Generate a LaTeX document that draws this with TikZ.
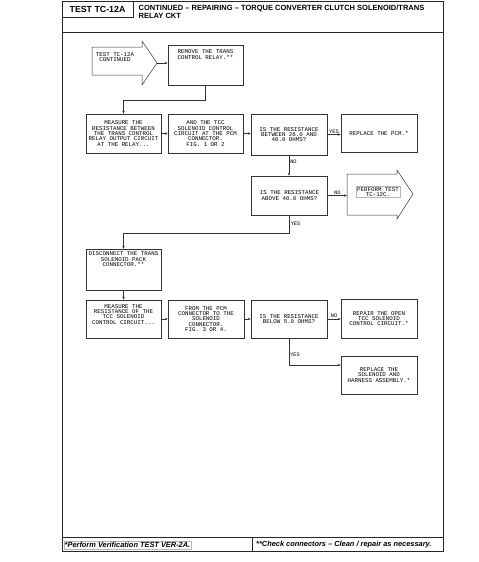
\documentclass[tikz,border=0pt]{standalone}
\usepackage{fontspec}
\usetikzlibrary{arrows.meta,positioning}
\newfontfamily\monofont{Liberation Mono}
\newfontfamily\headfont{Liberation Sans}

\tikzset{
  stepbox/.style={draw=black!80, line width=0.5pt, minimum width=76pt, minimum height=39pt,
    inner sep=1pt, align=center, font=\monofont\fontsize{5.8}{5.3}\selectfont},
  steptext/.style={inner sep=0pt, align=center, font=\monofont\fontsize{5.8}{5.3}\selectfont},
  flow/.style={draw=black!80, line width=0.5pt, -{Stealth[length=3pt,width=2.4pt]}},
  answer/.style={inner sep=1pt, font=\monofont\fontsize{5.3}{5.3}\selectfont},
  hilite/.style={draw=blue!35!gray!45, line width=0.4pt},
  framel/.style={draw=black!85, line width=0.7pt},
  footnote/.style={anchor=west, inner sep=1pt, font=\headfont\bfseries\itshape\fontsize{7.4}{8}\selectfont},
}

\begin{document}
\begin{tikzpicture}[x=1pt,y=-1pt]
\useasboundingbox (0,0) rectangle (479,562);

% page frame
\draw[framel] (62,1) rectangle (443,551);
\draw[framel] (62,17) -- (133,17) -- (133,1);
\draw[framel] (62,32) -- (443,32);
\draw[framel] (62,537) -- (443,537);
\draw[framel] (252,537) -- (252,551);

\node[inner sep=0pt, font=\headfont\bfseries\fontsize{8.8}{10}\selectfont] (tst) at (97.5,9.5) {TEST TC-12A};
\node[anchor=north west, align=left, inner sep=0pt, font=\headfont\bfseries\fontsize{7.5}{8.2}\selectfont] (ttl) at (138.5,4.5)
  {CONTINUED – REPAIRING – TORQUE CONVERTER CLUTCH SOLENOID/TRANS\\RELAY CKT};

\node[footnote, hilite] (vrf) at (63.5,545) {*Perform Verification TEST VER-2A.};
\node[footnote] (cln) at (255,545) {**Check connectors – Clean / repair as necessary.};

% start arrow
\coordinate (stip) at (157,63);
\draw[draw=black!80, line width=0.5pt] (92,47) -- (142,47) -- (142,41) -- (stip) -- (142,85) -- (142,75) -- (92,75) -- cycle;
\node[steptext] (cnt) at (115,57) {TEST TC-12A\\CONTINUED};

\node[stepbox, minimum width=75pt, minimum height=40pt] (rmv) at (205.5,65) {};
\node[steptext, below=5pt of rmv.north] (rmvt) {REMOVE THE TRANS\\CONTROL RELAY.**};

% row 2
\node[stepbox, minimum width=75pt] (msr) at (123.5,133.5)
  {MEASURE THE\\RESISTANCE BETWEEN\\THE TRANS CONTROL\\RELAY OUTPUT CIRCUIT\\AT THE RELAY...};
\node[stepbox, minimum width=75pt] (tcc) at (205.5,133.5)
  {AND THE TCC\\SOLENOID CONTROL\\CIRCUIT AT THE PCM\\CONNECTOR.\\FIG. 1 OR 2};
\node[stepbox, minimum height=41pt] (btw) at (289,134.5)
  {IS THE RESISTANCE\\BETWEEN 26.0 AND\\40.0 OHMS?};
\node[stepbox, minimum height=38pt] (pcm) at (379,133) {REPLACE THE PCM.*};

% row 3
\node[stepbox] (abv) at (289.5,195.5) {IS THE RESISTANCE\\ABOVE 40.0 OHMS?};
\coordinate (fin) at (347,195);
\draw[draw=black!80, line width=0.5pt] (347,174) -- (397,174) -- (397,170) -- (413,194) -- (397,219) -- (397,215) -- (347,215) -- cycle;
\node[steptext, hilite, inner sep=1pt] (prf) at (378,192) {PERFORM TEST\\TC-12C.};

% row 4 and 5
\node[stepbox, minimum width=75pt, minimum height=41pt] (dsc) at (123.5,269.5) {};
\node[steptext, below=3pt of dsc.north] (dsct) {DISCONNECT THE TRANS\\SOLENOID PACK\\CONNECTOR.**};
\node[stepbox, minimum width=75pt, minimum height=38pt] (sol) at (123.5,319)
  {MEASURE THE\\RESISTANCE OF THE\\TCC SOLENOID\\CONTROL CIRCUIT...\\[4pt]};
\node[stepbox, minimum height=38pt] (frm) at (206,319)
  {FROM THE PCM\\CONNECTOR TO THE\\SOLENOID\\CONNECTOR.\\FIG. 3 OR 4.};
\node[stepbox, minimum height=38pt] (blw) at (289,319) {IS THE RESISTANCE\\BELOW 5.0 OHMS?};
\node[stepbox, minimum height=39pt] (opn) at (379,318.5) {REPAIR THE OPEN\\TCC SOLENOID\\CONTROL CIRCUIT.*};
\node[stepbox, minimum height=38pt] (hrn) at (379,375) {REPLACE THE\\SOLENOID AND\\HARNESS ASSEMBLY.*};

% connectors
\draw[flow] (stip) -- (stip -| rmv.west);
\draw[flow] (rmv.south) -- ++(0,15) -| (msr.north);
\draw[flow] (msr) -- (tcc);
\draw[flow] (tcc.east) -- (tcc.east -| btw.west);
\draw[flow] (btw.east) -- node[answer, above] (yes1) {YES} (btw.east -| pcm.west);
\draw[flow] (btw.south) -- node[answer, right, pos=0.3] (no1) {NO} (btw.south |- abv.north);
\draw[flow] (abv.east) -- node[answer, above] (no2) {NO} (abv.east -| fin);
\draw[flow] (abv.south) -- node[answer, right] (yes2) {YES} ++(0,18) -| (dsc.north);
\draw[flow] (dsc) -- (sol);
\draw[flow] (sol) -- (frm);
\draw[flow] (frm) -- (blw);
\draw[flow] (blw.east) -- node[answer, above] (no3) {NO} (blw.east -| opn.west);
\draw[flow] (blw.south) |- node[answer, right, pos=0.3] (yes3) {YES} ([yshift=10pt]hrn.west);

\end{tikzpicture}
\end{document}
